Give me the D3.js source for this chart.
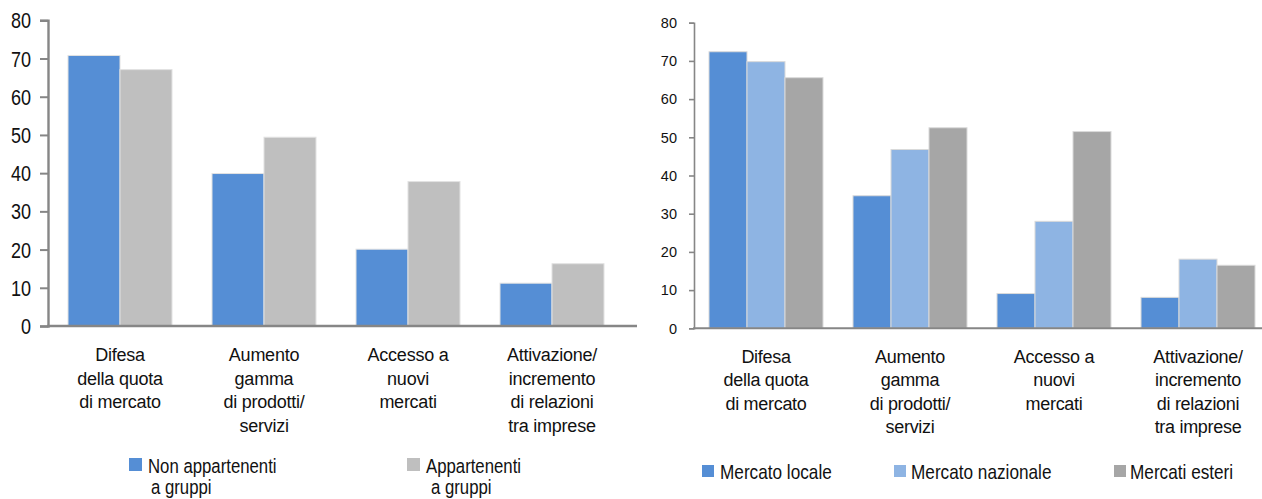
<!DOCTYPE html>
<html>
<head>
<meta charset="utf-8">
<script src="https://cdn.jsdelivr.net/npm/d3@7"></script>
<style>
  html, body { margin: 0; padding: 0; background: #fff; }
  svg { display: block; }
  text { font-family: "Liberation Sans", Arial, sans-serif; fill: #111; }
</style>
</head>
<body>
<svg id="chart" width="1262" height="499"></svg>
<script>
// Categories shared by both panels (each entry is the list of label lines)
const categories = [
  ["Difesa", "della quota", "di mercato"],
  ["Aumento", "gamma", "di prodotti/", "servizi"],
  ["Accesso a", "nuovi", "mercati"],
  ["Attivazione/", "incremento", "di relazioni", "tra imprese"]
];
const yTicks = [0, 10, 20, 30, 40, 50, 60, 70, 80];

// Left panel: firms by group membership
const leftSeries = [["Non appartenenti", "a gruppi"], ["Appartenenti", "a gruppi"]];
const leftNonGroup = [70.8, 39.9, 20.1, 11.2];
const leftGroup = [67.1, 49.4, 37.8, 16.3];

// Right panel: firms by reference market
const rightSeries = ["Mercato locale", "Mercato nazionale", "Mercati esteri"];
const rightLocal = [72.4, 34.7, 9.1, 8.1];
const rightNational = [69.8, 46.8, 28.0, 18.1];
const rightForeign = [65.6, 52.5, 51.5, 16.5];

const svg = d3.select("#chart");

// text helper: optional horizontal squeeze
function label(parent, x, y, str, size, opts = {}) {
  const sx = opts.sx || 1;
  return parent.append("text")
    .attr("transform", `translate(${x},${y}) scale(${sx},1)`)
    .attr("text-anchor", opts.anchor || "start")
    .style("font-size", size + "px")
    .style("letter-spacing", (opts.ls || 0) + "px")
    .text(str);
}

function panel(cfg) {
  const g = svg.append("g");
  const catIdx = categories.map((d, i) => i);
  const x0 = d3.scaleBand().domain(catIdx).range([cfg.x0, cfg.x0 + 576])
    .paddingInner(cfg.pad).paddingOuter(cfg.pad / 2);
  const x1 = d3.scaleBand().domain(d3.range(cfg.values.length)).range([0, x0.bandwidth()]);
  const y = d3.scaleLinear().domain([0, 80]).range([cfg.yBottom, cfg.yTop]);

  // bars
  cfg.values.forEach((vals, s) => {
    g.selectAll(null).data(vals).enter().append("rect")
      .attr("x", (d, i) => x0(i) + x1(s))
      .attr("y", d => y(d))
      .attr("width", x1.bandwidth())
      .attr("height", d => y(0) - y(d))
      .attr("fill", cfg.colors[s])
      .attr("stroke", cfg.stroke)
      .attr("stroke-width", 1);
  });

  // y axis line and ticks
  const ya = g.append("g").attr("transform", `translate(${cfg.x0},0)`)
    .call(d3.axisLeft(y).tickValues(yTicks).tickSize(cfg.tick).tickFormat(""));
  ya.select(".domain").attr("stroke", "#868686").attr("stroke-width", cfg.axisW);
  ya.selectAll(".tick line").attr("stroke", "#868686").attr("stroke-width", cfg.tickW);

  // tick labels
  yTicks.forEach(t => {
    label(g, cfg.x0 - cfg.labelGap, y(t) + cfg.tickBase, String(t), cfg.tickFont,
      { anchor: "end", sx: cfg.tickSx });
  });

  // x axis baseline
  g.append("line")
    .attr("x1", cfg.x0 - 1).attr("x2", cfg.xEnd)
    .attr("y1", y(0)).attr("y2", y(0))
    .attr("stroke", "#868686").attr("stroke-width", cfg.baseW);

  // category labels
  categories.forEach((lines, i) => {
    const cx = x0(i) + x0.bandwidth() / 2;
    lines.forEach((ln, k) => {
      label(g, cx, cfg.catY + k * cfg.catLH, ln, cfg.catFont,
        { anchor: "middle", ls: cfg.catLS });
    });
  });
  return { x0, y };
}

// Left panel
panel({
  x0: 48, xEnd: 637, pad: 40 / 144, yTop: 20.3, yBottom: 326,
  values: [leftNonGroup, leftGroup],
  colors: ["#558ed5", "#bfbfbf"], stroke: "#e2e2e2",
  tick: 8, axisW: 2.4, tickW: 2, baseW: 2.6,
  labelGap: 17, tickBase: 8, tickFont: 22, tickSx: 0.82,
  catFont: 18, catLS: -0.25, catY: 361, catLH: 23.5
});

// Right panel
panel({
  x0: 694, xEnd: 1262, pad: 30 / 144, yTop: 22.7, yBottom: 328.3,
  values: [rightLocal, rightNational, rightForeign],
  colors: ["#558ed5", "#8eb4e3", "#a6a6a6"], stroke: "#dadada",
  tick: 5, axisW: 1.6, tickW: 1.6, baseW: 2,
  labelGap: 17, tickBase: 5.3, tickFont: 14.5, tickSx: 1,
  catFont: 18, catLS: -0.3, catY: 362.5, catLH: 23.5
});

// Left legend (two-line entries)
const leftLegend = svg.append("g");
const leftSquareX = [129, 407];
const leftTextX = [148, 426];
const leftTextX2 = [151, 431];
const leftColors = ["#558ed5", "#bfbfbf"];
leftSeries.forEach((lines, i) => {
  leftLegend.append("rect").attr("x", leftSquareX[i]).attr("y", 458)
    .attr("width", 13).attr("height", 13).attr("fill", leftColors[i]);
  label(leftLegend, leftTextX[i], 473, lines[0], 19.5, { sx: 0.86 });
  label(leftLegend, leftTextX2[i], 494, lines[1], 19.5, { sx: 0.86 });
});

// Right legend
const rightLegend = svg.append("g");
const rightSquareX = [702, 894, 1114];
const rightTextX = [720, 911, 1130];
const rightColors = ["#558ed5", "#8eb4e3", "#a6a6a6"];
rightSeries.forEach((name, i) => {
  rightLegend.append("rect").attr("x", rightSquareX[i]).attr("y", 465)
    .attr("width", 12).attr("height", 12).attr("fill", rightColors[i]);
  label(rightLegend, rightTextX[i], 479, name, 20, { sx: 0.86 });
});
</script>
</body>
</html>
